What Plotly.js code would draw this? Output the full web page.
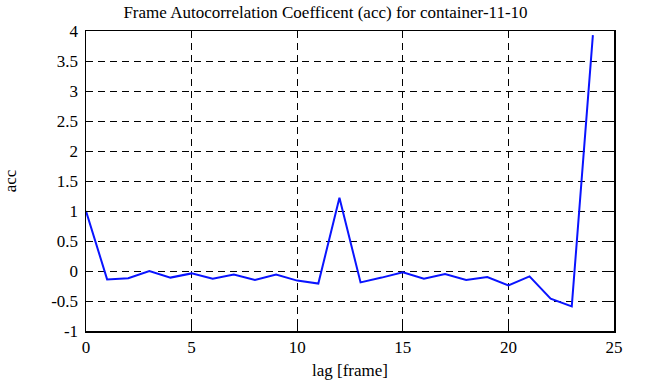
<!DOCTYPE html>
<html>
<head>
<meta charset="utf-8">
<script src="https://cdn.plot.ly/plotly-3.0.1.min.js"></script>
<style>html,body{margin:0;padding:0;background:#fff;}#chart{width:651px;height:387px;}</style>
</head>
<body>
<div id="chart"></div>
<script>
const lags = [0,1,2,3,4,5,6,7,8,9,10,11,12,13,14,15,16,17,18,19,20,21,22,23,24];
const acc = [1.0,-0.14,-0.12,0.0,-0.11,-0.04,-0.13,-0.06,-0.15,-0.06,-0.16,-0.21,1.22,-0.19,-0.11,-0.02,-0.13,-0.05,-0.15,-0.10,-0.24,-0.09,-0.46,-0.59,3.93];
const xTicks = [0,5,10,15,20,25];
const yTicks = [-1,-0.5,0,0.5,1,1.5,2,2.5,3,3.5,4];

const FAM = 'Liberation Serif, Times New Roman, serif';
function f(size) { return {family: FAM, size: size, color: '#000'}; }
function axis(extra) {
  return Object.assign({
    showline: true, linecolor: '#000', linewidth: 1.5, mirror: 'ticks',
    ticks: 'inside', ticklen: 5, tickcolor: '#000', tickwidth: 1,
    showgrid: true, gridcolor: '#000', gridwidth: 1, griddash: '7px,5px',
    zeroline: false, tickfont: f(17)
  }, extra);
}
Plotly.newPlot('chart', [{
  x: lags, y: acc, type: 'scatter', mode: 'lines',
  line: {color: '#0a14ff', width: 2}
}], {
  width: 651, height: 387,
  margin: {l: 86, r: 37, t: 31, b: 56},
  paper_bgcolor: '#fff', plot_bgcolor: '#fff',
  showlegend: false,
  font: f(17),
  title: {text: 'Frame Autocorrelation Coefficent (acc) for container-11-10', font: f(17), x: 0.5, xanchor: 'center', y: 0.985, yanchor: 'top'},
  xaxis: axis({range: [0, 25], tickvals: xTicks, ticktext: xTicks.map(String),
    title: {text: 'lag [frame]', font: f(17), standoff: 8}}),
  yaxis: axis({range: [-1, 4], tickvals: yTicks, ticktext: yTicks.map(String),
    ticklabelstandoff: 3,
    title: {text: 'acc', font: f(17), standoff: 30}})
}, {displayModeBar: false, staticPlot: true});
</script>
</body>
</html>
